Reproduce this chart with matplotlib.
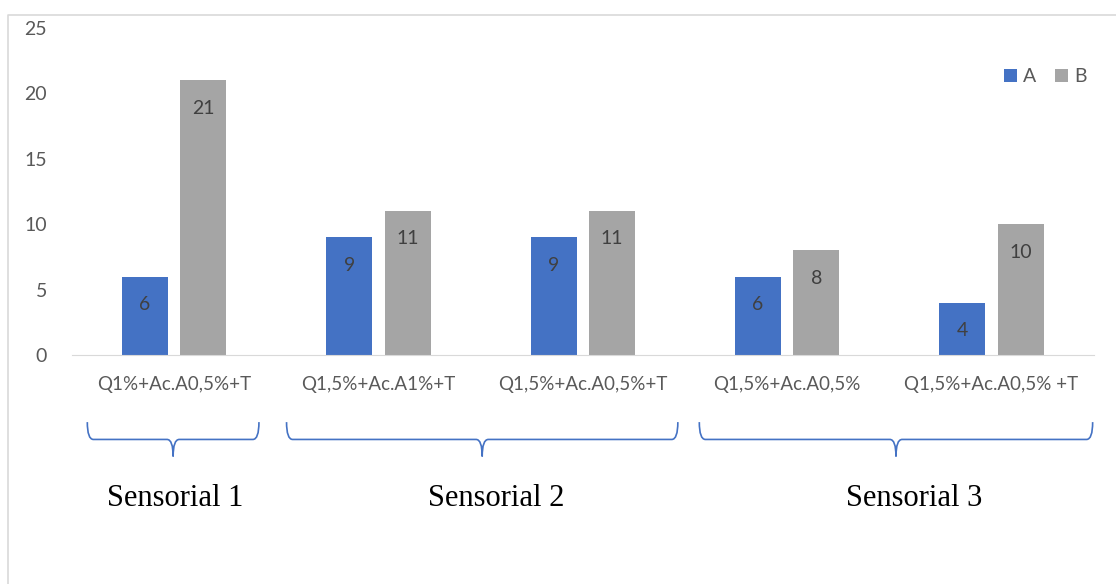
import matplotlib.pyplot as plt
import numpy as np
from matplotlib.path import Path
from matplotlib.patches import PathPatch
from matplotlib.lines import Line2D
import matplotlib.transforms as mtransforms

categories = ['Q1%+Ac.A0,5%+T', 'Q1,5%+Ac.A1%+T', 'Q1,5%+Ac.A0,5%+T',
              'Q1,5%+Ac.A0,5%', 'Q1,5%+Ac.A0,5% +T']
serie_a = [6, 9, 9, 6, 4]
serie_b = [21, 11, 11, 8, 10]
grupos = ['Sensorial 1', 'Sensorial 2', 'Sensorial 3']
grupo_idx = [(0, 0), (1, 2), (3, 4)]

azul = '#4472C4'
gris = '#A5A5A5'
texto = '#595959'

plt.rcParams['font.family'] = ['Lato', 'DejaVu Sans']

fig = plt.figure(figsize=(11.16, 5.84), dpi=100)
ax = fig.add_axes([0.0645, 0.392, 0.9155, 0.560])

x = np.arange(len(categories))
w = 0.225
off = 0.143
ba = ax.bar(x - off, serie_a, w, color=azul, label='A')
bb = ax.bar(x + off, serie_b, w, color=gris, label='B')

for bars in (ba, bb):
    for r in bars:
        ax.annotate(str(int(r.get_height())),
                    (r.get_x() + r.get_width() / 2, r.get_height()),
                    xytext=(0, -20), textcoords='offset points',
                    ha='center', va='center', fontsize=14, color='#404040')

ax.set_xlim(-0.5, len(categories) - 0.5)
ax.set_ylim(0, 25)
ax.set_yticks(range(0, 26, 5))
ax.set_xticks(x)
ax.set_xticklabels(categories)
ax.tick_params(axis='both', length=0, colors=texto)
ax.tick_params(axis='x', pad=15, labelsize=13.5)
ax.tick_params(axis='y', pad=18, labelsize=14)
for s in ['top', 'right', 'left']:
    ax.spines[s].set_visible(False)
ax.spines['bottom'].set_color('#D9D9D9')

ax.legend(loc='upper right', bbox_to_anchor=(1.01, 0.93), ncol=2, frameon=False,
          handlelength=0.65, handleheight=0.65, handletextpad=0.3,
          columnspacing=1.0, fontsize=14, labelcolor=texto)

# llaves bajo las categorias
trans = mtransforms.blended_transform_factory(ax.transData, ax.transAxes)
y_top, y_line, y_tip = -0.205, -0.258, -0.31
dx = 0.03
pads = [(0.425, 0.415), (0.45, 0.465), (0.43, 0.495)]
shifts = [0.01, 0.07, 0.09]
for (i0, i1), nombre, (p0, p1), sh in zip(grupo_idx, grupos, pads, shifts):
    x0, x1 = i0 - p0, i1 + p1
    xc = (x0 + x1) / 2
    verts = [(x0, y_top), (x0, y_line), (x0 + dx, y_line),
             (xc - dx, y_line), (xc, y_line), (xc, y_tip),
             (xc, y_line), (xc + dx, y_line),
             (x1 - dx, y_line), (x1, y_line), (x1, y_top)]
    codes = [Path.MOVETO, Path.CURVE3, Path.CURVE3,
             Path.LINETO, Path.CURVE3, Path.CURVE3,
             Path.CURVE3, Path.CURVE3,
             Path.LINETO, Path.CURVE3, Path.CURVE3]
    ax.add_patch(PathPatch(Path(verts, codes), transform=trans, fill=False,
                           edgecolor=azul, lw=1.2, clip_on=False))
    ax.text(xc + sh, -0.44, nombre, transform=trans, ha='center', va='center',
            fontsize=22, family='Liberation Serif', color='black')

# borde del grafico
fig.add_artist(Line2D([8 / 1116, 8 / 1116, 1], [0, 1 - 15 / 584, 1 - 15 / 584],
                      transform=fig.transFigure, color='#D9D9D9', lw=1.2))

fig.savefig('out.png', dpi=100)
